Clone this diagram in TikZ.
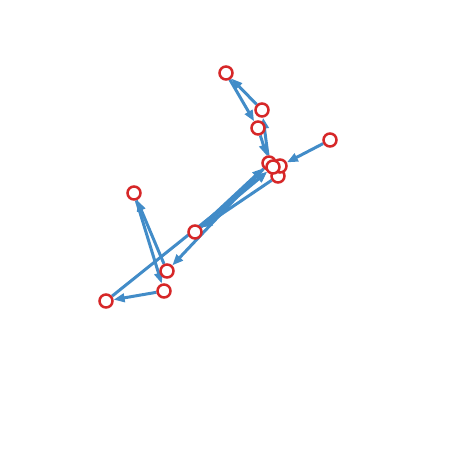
\documentclass[tikz,border=0pt]{standalone}
\usetikzlibrary{arrows.meta,backgrounds}
\definecolor{edgeblue}{RGB}{66,140,200}
\definecolor{nodered}{RGB}{214,39,40}
\tikzset{
  vtx/.style={circle,draw=nodered,line width=2.5pt,fill=white,minimum size=13pt,inner sep=0pt,text=white,font=\sffamily\fontsize{10}{10}\selectfont},
  link/.style={draw=edgeblue,line width=3pt,-{Triangle[length=11pt,width=8.5pt]}}
}
\begin{document}
\begin{tikzpicture}[x=1pt,y=-1pt]
\useasboundingbox (0,0) rectangle (462,462);
\node[vtx] (n2) at (226,73) {2};
\node[vtx] (n6) at (262,110) {6};
\node[vtx] (n1) at (258,128) {1};
\node[vtx] (n3) at (330,140) {3};
\node[vtx] (n8) at (278,176) {8};
\node[vtx] (n7) at (269,163) {7};
\node[vtx] (n4) at (280,166) {4};
\node[vtx] (n14) at (273,167) {14};
\node[vtx] (n13) at (195,232) {13};
\node[vtx] (n5) at (134,193) {5};
\node[vtx] (n9) at (167,271) {9};
\node[vtx] (n10) at (164,291) {10};
\node[vtx] (n11) at (106,301) {11};
\begin{pgfonlayer}{background}
\draw[link] (n6) -- (n2);
\draw[link] (n2) -- (n1);
\draw[link] (n7) -- (n6);
\draw[link] (n1) -- (n7);
\draw[link] (n3) -- (n4);
\draw[link] (n13) -- (n7);
\draw[link] (n13) -- (n14);
\draw[link] (n8) -- (n13);
\draw[link] (n11) -- (n14);
\draw[link] (n7) -- (n9);
\draw[link] (n9) -- (n5);
\draw[link] (n5) -- (n10);
\draw[link] (n10) -- (n11);
\end{pgfonlayer}
\end{tikzpicture}
\end{document}
